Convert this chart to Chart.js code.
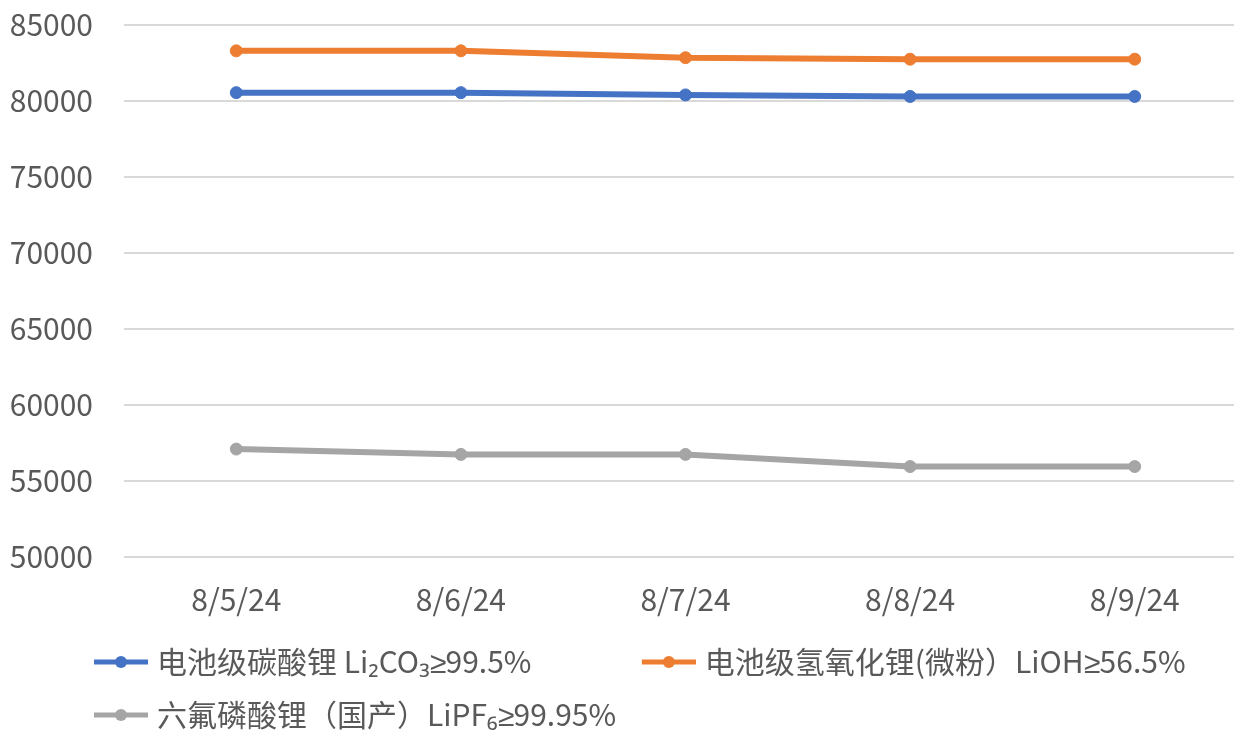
<!DOCTYPE html>
<html>
<head>
<meta charset="utf-8">
<script src="https://cdn.jsdelivr.net/npm/chart.js@4/dist/chart.umd.min.js"></script>
<style>
  @font-face { font-family: 'GeSign'; src: local('Liberation Sans'), local('LiberationSans'); unicode-range: U+2265; }
  html, body { margin: 0; padding: 0; background: #ffffff; overflow: hidden; }
  #wrap { width: 1234px; height: 730px; position: relative; overflow: hidden; }
  #c { position: absolute; left: 0; top: 0; }
</style>
</head>
<body>
<div id="wrap"><canvas id="c" width="1254" height="730"></canvas></div>
<script>
const categories = ['8/5/24', '8/6/24', '8/7/24', '8/8/24', '8/9/24'];
const li2co3Values = [80550, 80550, 80400, 80300, 80300];
const liohValues = [83300, 83300, 82850, 82750, 82750];
const lipf6Values = [57100, 56750, 56750, 55950, 55950];
const seriesNames = ['电池级碳酸锂 Li₂CO₃≥99.5%', '电池级氢氧化锂(微粉）LiOH≥56.5%', '六氟磷酸锂（国产）LiPF₆≥99.95%'];
const seriesColors = ['#4472C4', '#ED7D31', '#A5A5A5'];
const yMin = 50000, yMax = 85000, yStep = 5000;

const FONT = 'GeSign, "Noto Sans CJK SC", "Open Sans", sans-serif';
const TEXT = '#595959';
const FS = 30;

function legendIcon(color) {
  const c = document.createElement('canvas');
  c.width = 60; c.height = 14;
  const g = c.getContext('2d');
  g.strokeStyle = color; g.lineWidth = 5;
  g.beginPath(); g.moveTo(6, 7); g.lineTo(60, 7); g.stroke();
  g.fillStyle = color;
  g.beginPath(); g.arc(33, 7, 6, 0, Math.PI * 2); g.fill();
  return c;
}

function build() {
  const icons = seriesColors.map(legendIcon);
  const mctx = document.createElement('canvas').getContext('2d');
  mctx.font = FS + 'px ' + FONT;
  function padTo(text, w) {
    let t = text;
    while (mctx.measureText(t).width < w) t += ' ';
    return t;
  }
  const LEG_PAD = 23, LEG_BOX = 48, LEG_START = 94, COL2 = 640;
  const PLOT_LEFT = 124, YLABEL_RIGHT = 93;
  const col1Text = padTo(seriesNames[0], COL2 - LEG_START - LEG_PAD - LEG_BOX - FS / 2);
  const yLabel = v => String(v);
  const widest = mctx.measureText(yLabel(yMax)).width;

  const data = {
    labels: categories,
    datasets: [li2co3Values, liohValues, lipf6Values].map((vals, i) => ({
      label: seriesNames[i],
      data: vals,
      borderColor: seriesColors[i],
      backgroundColor: seriesColors[i],
      borderWidth: 6,
      pointRadius: 6,
      pointBorderWidth: 1,
      pointHoverRadius: 6,
      tension: 0
    }))
  };

  new Chart(document.getElementById('c'), {
    type: 'line',
    data,
    options: {
      responsive: false,
      animation: false,
      layout: { padding: { left: LEG_START - LEG_PAD, right: -13, top: 25, bottom: -10 } },
      plugins: {
        tooltip: { enabled: false },
        legend: {
          position: 'bottom',
          align: 'start',
          labels: {
            font: { family: FONT, size: FS },
            color: TEXT,
            usePointStyle: true,
            pointStyleWidth: LEG_BOX,
            padding: LEG_PAD,
            generateLabels(chart) {
              const items = Chart.defaults.plugins.legend.labels.generateLabels(chart);
              items.forEach((it, i) => {
                it.pointStyle = icons[i];
                it.fontColor = TEXT;
                if (i === 0) it.text = col1Text;
              });
              return items;
            }
          }
        }
      },
      scales: {
        x: {
          offset: true,
          grid: { display: false, drawTicks: false },
          border: { display: false },
          ticks: { font: { family: FONT, size: FS }, color: TEXT, padding: 25, maxRotation: 0, autoSkip: false },
          afterFit(scale) { scale.height = 67; scale.paddingLeft = 0; scale.paddingRight = 0; }
        },
        y: {
          min: yMin, max: yMax,
          grid: { color: '#D9D9D9', lineWidth: 2, drawTicks: false },
          border: { display: false },
          ticks: {
            stepSize: yStep, font: { family: FONT, size: FS }, color: TEXT,
            callback: v => yLabel(v),
            mirror: true, crossAlign: 'far', padding: YLABEL_RIGHT - PLOT_LEFT - widest
          },
          afterFit(scale) { scale.width = PLOT_LEFT - (LEG_START - LEG_PAD); scale.paddingTop = 0; scale.paddingBottom = 0; }
        }
      }
    }
  });
}

Promise.all([document.fonts.load(FS + 'px GeSign', '≥'), document.fonts.load(FS + 'px "Noto Sans CJK SC"', '电8')])
  .catch(() => {}).then(build);
</script>
</body>
</html>
